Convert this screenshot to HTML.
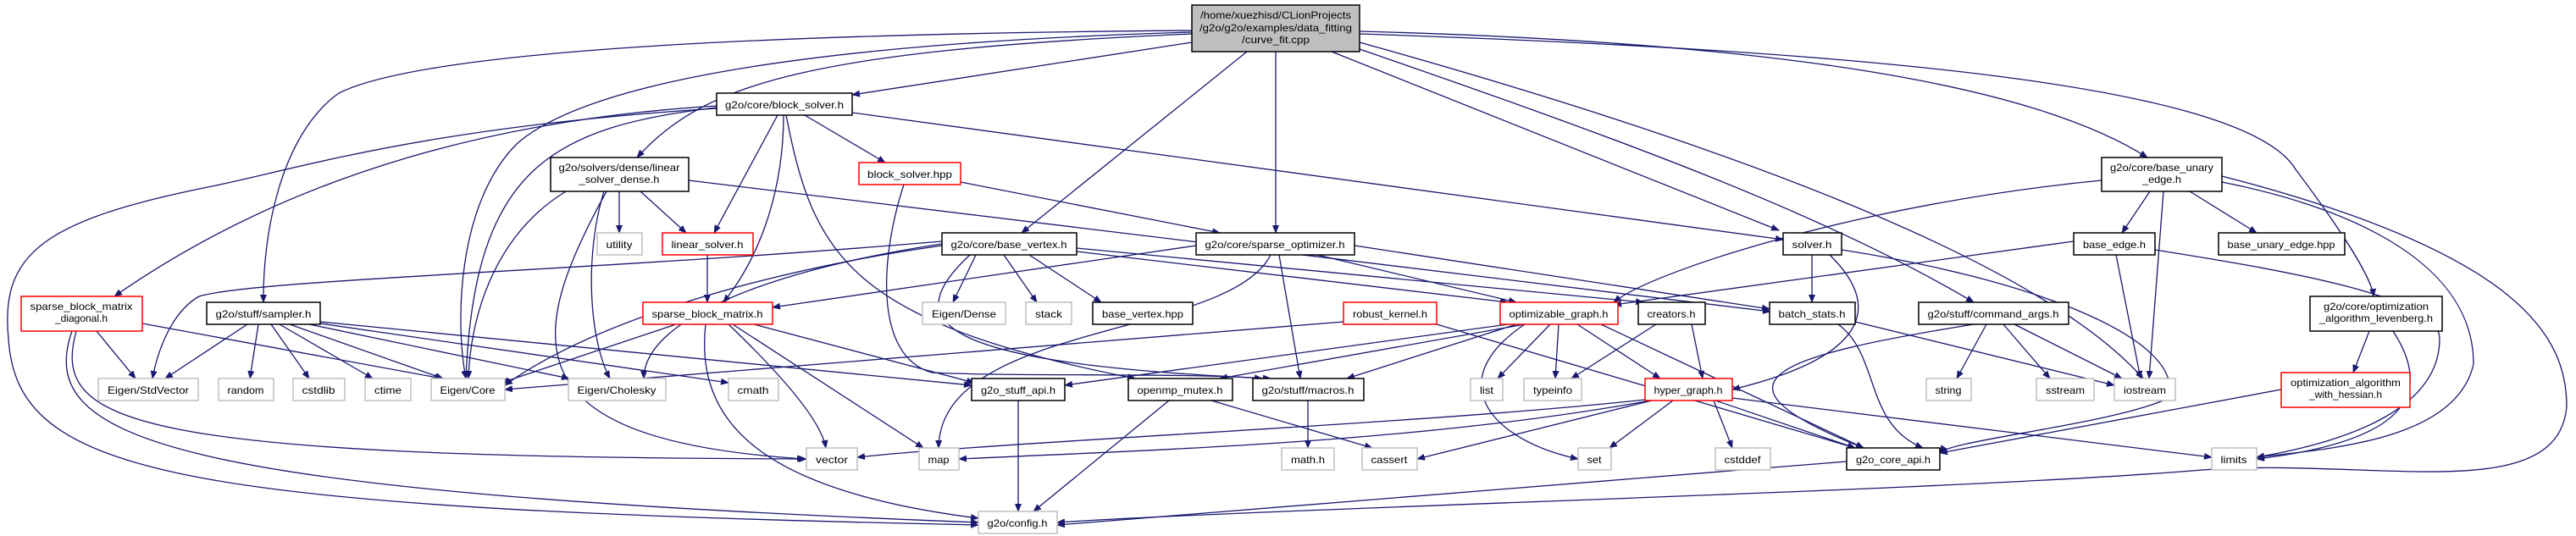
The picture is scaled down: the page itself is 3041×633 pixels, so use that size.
<!DOCTYPE html>
<html><head><meta charset="utf-8"><style>
html,body{margin:0;padding:0;background:#fff;width:3041px;height:633px;overflow:hidden}
svg{display:block}
text{font-family:"Liberation Sans",sans-serif;font-size:12px;fill:#000}
.e{fill:none;stroke:#191970;stroke-width:1.3}
.b{fill:#fff;stroke:#000;stroke-width:1.5}
.r{fill:#fff;stroke:#ff0000;stroke-width:1.5}
.g{fill:#fff;stroke:#bfbfbf;stroke-width:1.5}
</style></head><body>
<svg width="3041" height="633" viewBox="0 0 3041 633" xmlns="http://www.w3.org/2000/svg">
<defs><marker id="a" markerWidth="10" markerHeight="8" refX="9" refY="4" orient="auto" markerUnits="userSpaceOnUse"><path d="M0,0 L10,4 L0,8 z" fill="#191970"/></marker></defs>
<g class="e" marker-end="url(#a)">
<path d="M1407,50 L1006,112"/>
<path d="M1407,40 C950,60 830,100 752,186"/>
<path d="M1407,36 C900,40 500,60 400,110 C330,160 310,280 311,357"/>
<path d="M1407,38 C1000,50 700,90 610,170 C540,240 537,380 550,447"/>
<path d="M1472,61 L1206,275"/>
<path d="M1506,61 L1506,275"/>
<path d="M1572,61 L2100,272"/>
<path d="M1605,58 C1900,160 2150,250 2330,357"/>
<path d="M1605,50 C2000,160 2400,300 2530,447"/>
<path d="M1605,37 C2100,50 2400,100 2535,186"/>
<path d="M1605,40 C2200,60 2650,100 2710,200 C2770,280 2800,330 2802,350"/>
<path d="M846,125 C600,140 350,200 135,350"/>
<path d="M846,128 C500,150 350,200 250,220 C50,260 0,300 10,400 C20,560 200,600 1155,620"/>
<path d="M846,127 C650,150 560,200 550,447"/>
<path d="M918,136 L843,275"/>
<path d="M925,136 C925,220 900,300 854,357"/>
<path d="M950,136 L1045,192"/>
<path d="M1006,133 L2105,283"/>
<path d="M928,136 C960,300 1000,380 1340,447"/>
<path d="M731,226 L731,275"/>
<path d="M756,226 L810,275"/>
<path d="M668,226 C580,280 555,380 553,447"/>
<path d="M713,226 C690,300 695,400 720,447"/>
<path d="M716,226 C620,400 600,520 950,542"/>
<path d="M813,213 L2090,368"/>
<path d="M835,301 L835,357"/>
<path d="M114,391 L160,447"/>
<path d="M168,382 L522,447"/>
<path d="M90,391 C60,500 150,540 952,542"/>
<path d="M85,391 C40,520 200,580 1155,617"/>
<path d="M292,383 L195,447"/>
<path d="M305,383 L295,447"/>
<path d="M320,383 L365,447"/>
<path d="M330,383 L440,447"/>
<path d="M342,383 L523,447"/>
<path d="M365,383 L672,447"/>
<path d="M378,382 L860,452"/>
<path d="M378,380 L1147,455"/>
<path d="M798,383 L592,452"/>
<path d="M860,383 C930,450 970,500 975,529"/>
<path d="M865,383 L1090,529"/>
<path d="M833,383 C820,500 900,580 1155,612"/>
<path d="M890,383 L1150,452"/>
<path d="M1134,215 L1440,275"/>
<path d="M1067,218 C1040,300 1030,420 1100,440 C1200,445 1400,440 1490,447"/>
<path d="M1152,301 L1125,357"/>
<path d="M1185,301 L1224,357"/>
<path d="M1215,301 L1300,357"/>
<path d="M1112,290 C900,320 700,380 596,455"/>
<path d="M1112,288 C900,320 760,380 760,447"/>
<path d="M1112,285 C700,320 300,330 235,350 C200,370 185,420 180,447"/>
<path d="M1271,297 L1780,357"/>
<path d="M1271,293 L1940,357"/>
<path d="M1145,301 C1060,380 1100,430 1500,447"/>
<path d="M1555,301 L1790,357"/>
<path d="M1510,301 L1535,447"/>
<path d="M1412,290 L912,363"/>
<path d="M1500,301 C1450,400 1110,380 1108,529"/>
<path d="M1599,290 L2089,365"/>
<path d="M1586,380 L596,460"/>
<path d="M1696,383 L2190,529"/>
<path d="M1830,383 L1768,447"/>
<path d="M1840,383 L1836,447"/>
<path d="M1862,383 L1960,447"/>
<path d="M1800,383 C1700,450 1760,520 1863,542"/>
<path d="M1800,383 L1440,447"/>
<path d="M1790,383 L1590,447"/>
<path d="M1780,383 L1257,455"/>
<path d="M1890,383 L2200,529"/>
<path d="M1955,383 L1855,447"/>
<path d="M1997,383 L2010,447"/>
<path d="M1975,473 L1900,529"/>
<path d="M2023,473 L2045,529"/>
<path d="M2025,473 L2190,529"/>
<path d="M2045,470 L2611,540"/>
<path d="M1960,470 C1700,500 1200,520 1012,540"/>
<path d="M1965,470 C1700,520 1400,530 1132,542"/>
<path d="M1950,473 L1673,542"/>
<path d="M2139,301 L2139,357"/>
<path d="M2160,301 C2220,360 2210,420 2045,460"/>
<path d="M2174,295 C2400,330 2580,400 2560,470 C2500,500 2300,520 2290,535"/>
<path d="M2190,380 L2496,455"/>
<path d="M2170,383 C2220,420 2200,500 2270,529"/>
<path d="M2345,383 L2310,447"/>
<path d="M2365,383 L2420,447"/>
<path d="M2378,383 L2505,447"/>
<path d="M2330,383 C2100,420 2000,450 2200,529"/>
<path d="M2538,226 L2505,275"/>
<path d="M2585,226 L2664,275"/>
<path d="M2554,226 L2537,447"/>
<path d="M2623,215 C2750,240 2920,300 2920,430 C2900,520 2750,530 2664,540"/>
<path d="M2481,213 C2200,240 1950,320 1905,357"/>
<path d="M2498,301 L2527,447"/>
<path d="M2448,285 L1905,360"/>
<path d="M2544,295 C2700,320 2880,350 2880,400 C2880,480 2780,520 2664,540"/>
<path d="M2797,391 L2778,440"/>
<path d="M2825,391 C2870,460 2850,520 2664,542"/>
<path d="M2693,460 L2290,535"/>
<path d="M2623,208 C2980,300 3030,400 3030,480 C3020,600 2800,540 2600,555 C2300,580 1500,600 1248,617"/>
<path d="M2180,545 L1248,620"/>
<path d="M1202,473 L1202,604"/>
<path d="M1380,473 L1220,604"/>
<path d="M1430,473 L1620,529"/>
<path d="M1544,473 L1544,529"/>
</g>
<g>
<rect x="1407" y="6" width="198" height="55" fill="#bfbfbf" stroke="#000" stroke-width="1.5"/>
<text x="1506" y="22" text-anchor="middle" textLength="178" lengthAdjust="spacingAndGlyphs">/home/xuezhisd/CLionProjects</text>
<text x="1506" y="37" text-anchor="middle" textLength="180" lengthAdjust="spacingAndGlyphs">/g2o/g2o/examples/data_fitting</text>
<text x="1506" y="51" text-anchor="middle" textLength="80" lengthAdjust="spacingAndGlyphs">/curve_fit.cpp</text>

<rect class="b" x="846" y="110" width="160" height="26"/><text x="926" y="128" text-anchor="middle" textLength="140" lengthAdjust="spacingAndGlyphs">g2o/core/block_solver.h</text>
<rect class="b" x="650" y="186" width="163" height="40"/><text x="731" y="202" text-anchor="middle" textLength="143" lengthAdjust="spacingAndGlyphs">g2o/solvers/dense/linear</text><text x="731" y="216" text-anchor="middle" textLength="95" lengthAdjust="spacingAndGlyphs">_solver_dense.h</text>
<rect class="r" x="1014" y="192" width="120" height="26"/><text x="1074" y="210" text-anchor="middle" textLength="100" lengthAdjust="spacingAndGlyphs">block_solver.hpp</text>
<rect class="b" x="2481" y="186" width="142" height="40"/><text x="2552" y="202" text-anchor="middle" textLength="122" lengthAdjust="spacingAndGlyphs">g2o/core/base_unary</text><text x="2552" y="216" text-anchor="middle" textLength="46" lengthAdjust="spacingAndGlyphs">_edge.h</text>

<rect class="g" x="705" y="275" width="53" height="26"/><text x="731" y="293" text-anchor="middle" textLength="31" lengthAdjust="spacingAndGlyphs">utility</text>
<rect class="r" x="782" y="275" width="107" height="26"/><text x="835" y="293" text-anchor="middle" textLength="85" lengthAdjust="spacingAndGlyphs">linear_solver.h</text>
<rect class="b" x="1112" y="275" width="159" height="26"/><text x="1191" y="293" text-anchor="middle" textLength="137" lengthAdjust="spacingAndGlyphs">g2o/core/base_vertex.h</text>
<rect class="b" x="1412" y="275" width="187" height="26"/><text x="1505" y="293" text-anchor="middle" textLength="165" lengthAdjust="spacingAndGlyphs">g2o/core/sparse_optimizer.h</text>
<rect class="b" x="2105" y="275" width="69" height="26"/><text x="2139" y="293" text-anchor="middle" textLength="47" lengthAdjust="spacingAndGlyphs">solver.h</text>
<rect class="b" x="2448" y="275" width="96" height="26"/><text x="2496" y="293" text-anchor="middle" textLength="74" lengthAdjust="spacingAndGlyphs">base_edge.h</text>
<rect class="b" x="2619" y="275" width="149" height="26"/><text x="2693" y="293" text-anchor="middle" textLength="127" lengthAdjust="spacingAndGlyphs">base_unary_edge.hpp</text>

<rect class="r" x="25" y="350" width="143" height="41"/><text x="96" y="366" text-anchor="middle" textLength="121" lengthAdjust="spacingAndGlyphs">sparse_block_matrix</text><text x="96" y="380" text-anchor="middle" textLength="62" lengthAdjust="spacingAndGlyphs">_diagonal.h</text>
<rect class="b" x="244" y="357" width="134" height="26"/><text x="311" y="375" text-anchor="middle" textLength="113" lengthAdjust="spacingAndGlyphs">g2o/stuff/sampler.h</text>
<rect class="r" x="759" y="357" width="153" height="26"/><text x="835" y="375" text-anchor="middle" textLength="131" lengthAdjust="spacingAndGlyphs">sparse_block_matrix.h</text>
<rect class="g" x="1089" y="357" width="98" height="26"/><text x="1138" y="375" text-anchor="middle" textLength="76" lengthAdjust="spacingAndGlyphs">Eigen/Dense</text>
<rect class="g" x="1211" y="357" width="54" height="26"/><text x="1238" y="375" text-anchor="middle" textLength="32" lengthAdjust="spacingAndGlyphs">stack</text>
<rect class="b" x="1290" y="357" width="118" height="26"/><text x="1349" y="375" text-anchor="middle" textLength="96" lengthAdjust="spacingAndGlyphs">base_vertex.hpp</text>
<rect class="r" x="1586" y="357" width="110" height="26"/><text x="1641" y="375" text-anchor="middle" textLength="88" lengthAdjust="spacingAndGlyphs">robust_kernel.h</text>
<rect class="r" x="1771" y="357" width="139" height="26"/><text x="1840" y="375" text-anchor="middle" textLength="117" lengthAdjust="spacingAndGlyphs">optimizable_graph.h</text>
<rect class="b" x="1934" y="357" width="79" height="26"/><text x="1973" y="375" text-anchor="middle" textLength="57" lengthAdjust="spacingAndGlyphs">creators.h</text>
<rect class="b" x="2089" y="357" width="101" height="26"/><text x="2139" y="375" text-anchor="middle" textLength="79" lengthAdjust="spacingAndGlyphs">batch_stats.h</text>
<rect class="b" x="2265" y="357" width="177" height="26"/><text x="2353" y="375" text-anchor="middle" textLength="155" lengthAdjust="spacingAndGlyphs">g2o/stuff/command_args.h</text>
<rect class="b" x="2727" y="350" width="156" height="41"/><text x="2805" y="366" text-anchor="middle" textLength="124" lengthAdjust="spacingAndGlyphs">g2o/core/optimization</text><text x="2805" y="380" text-anchor="middle" textLength="134" lengthAdjust="spacingAndGlyphs">_algorithm_levenberg.h</text>

<rect class="g" x="116" y="447" width="118" height="26"/><text x="175" y="465" text-anchor="middle" textLength="96" lengthAdjust="spacingAndGlyphs">Eigen/StdVector</text>
<rect class="g" x="258" y="447" width="65" height="26"/><text x="290" y="465" text-anchor="middle" textLength="43" lengthAdjust="spacingAndGlyphs">random</text>
<rect class="g" x="346" y="447" width="61" height="26"/><text x="376" y="465" text-anchor="middle" textLength="39" lengthAdjust="spacingAndGlyphs">cstdlib</text>
<rect class="g" x="431" y="447" width="54" height="26"/><text x="458" y="465" text-anchor="middle" textLength="32" lengthAdjust="spacingAndGlyphs">ctime</text>
<rect class="g" x="509" y="447" width="87" height="26"/><text x="552" y="465" text-anchor="middle" textLength="65" lengthAdjust="spacingAndGlyphs">Eigen/Core</text>
<rect class="g" x="671" y="447" width="115" height="26"/><text x="728" y="465" text-anchor="middle" textLength="93" lengthAdjust="spacingAndGlyphs">Eigen/Cholesky</text>
<rect class="g" x="860" y="447" width="59" height="26"/><text x="889" y="465" text-anchor="middle" textLength="37" lengthAdjust="spacingAndGlyphs">cmath</text>
<rect class="b" x="1147" y="447" width="110" height="26"/><text x="1202" y="465" text-anchor="middle" textLength="88" lengthAdjust="spacingAndGlyphs">g2o_stuff_api.h</text>
<rect class="b" x="1332" y="447" width="123" height="26"/><text x="1393" y="465" text-anchor="middle" textLength="101" lengthAdjust="spacingAndGlyphs">openmp_mutex.h</text>
<rect class="b" x="1479" y="447" width="131" height="26"/><text x="1544" y="465" text-anchor="middle" textLength="109" lengthAdjust="spacingAndGlyphs">g2o/stuff/macros.h</text>
<rect class="g" x="1736" y="447" width="38" height="26"/><text x="1755" y="465" text-anchor="middle" textLength="16" lengthAdjust="spacingAndGlyphs">list</text>
<rect class="g" x="1799" y="447" width="68" height="26"/><text x="1833" y="465" text-anchor="middle" textLength="46" lengthAdjust="spacingAndGlyphs">typeinfo</text>
<rect class="r" x="1942" y="447" width="103" height="26"/><text x="1993" y="465" text-anchor="middle" textLength="81" lengthAdjust="spacingAndGlyphs">hyper_graph.h</text>
<rect class="g" x="2274" y="447" width="53" height="26"/><text x="2300" y="465" text-anchor="middle" textLength="31" lengthAdjust="spacingAndGlyphs">string</text>
<rect class="g" x="2404" y="447" width="68" height="26"/><text x="2438" y="465" text-anchor="middle" textLength="46" lengthAdjust="spacingAndGlyphs">sstream</text>
<rect class="g" x="2496" y="447" width="72" height="26"/><text x="2532" y="465" text-anchor="middle" textLength="50" lengthAdjust="spacingAndGlyphs">iostream</text>
<rect class="r" x="2693" y="440" width="152" height="41"/><text x="2769" y="456" text-anchor="middle" textLength="130" lengthAdjust="spacingAndGlyphs">optimization_algorithm</text><text x="2769" y="470" text-anchor="middle" textLength="86" lengthAdjust="spacingAndGlyphs">_with_hessian.h</text>

<rect class="g" x="952" y="529" width="60" height="26"/><text x="982" y="547" text-anchor="middle" textLength="38" lengthAdjust="spacingAndGlyphs">vector</text>
<rect class="g" x="1085" y="529" width="47" height="26"/><text x="1108" y="547" text-anchor="middle" textLength="25" lengthAdjust="spacingAndGlyphs">map</text>
<rect class="g" x="1513" y="529" width="62" height="26"/><text x="1544" y="547" text-anchor="middle" textLength="40" lengthAdjust="spacingAndGlyphs">math.h</text>
<rect class="g" x="1608" y="529" width="65" height="26"/><text x="1640" y="547" text-anchor="middle" textLength="43" lengthAdjust="spacingAndGlyphs">cassert</text>
<rect class="g" x="1863" y="529" width="39" height="26"/><text x="1882" y="547" text-anchor="middle" textLength="17" lengthAdjust="spacingAndGlyphs">set</text>
<rect class="g" x="2025" y="529" width="65" height="26"/><text x="2057" y="547" text-anchor="middle" textLength="43" lengthAdjust="spacingAndGlyphs">cstddef</text>
<rect class="b" x="2180" y="529" width="110" height="26"/><text x="2235" y="547" text-anchor="middle" textLength="88" lengthAdjust="spacingAndGlyphs">g2o_core_api.h</text>
<rect class="g" x="2611" y="529" width="53" height="26"/><text x="2637" y="547" text-anchor="middle" textLength="31" lengthAdjust="spacingAndGlyphs">limits</text>
<rect class="g" x="1155" y="604" width="93" height="26"/><text x="1201" y="622" text-anchor="middle" textLength="71" lengthAdjust="spacingAndGlyphs">g2o/config.h</text>
</g>
</svg>
</body></html>
